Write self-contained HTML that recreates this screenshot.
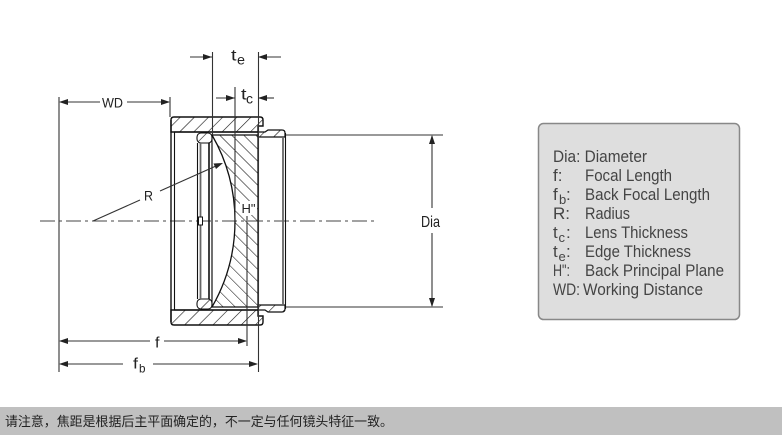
<!DOCTYPE html>
<html><head><meta charset="utf-8"><style>
html,body{margin:0;padding:0;background:#fff;}
svg{display:block;}
</style></head><body>
<svg width="782" height="435" viewBox="0 0 782 435" xmlns="http://www.w3.org/2000/svg">
<defs>
<pattern id="hh" width="10" height="10" patternUnits="userSpaceOnUse" patternTransform="rotate(45)">
<line x1="0" y1="0" x2="0" y2="10" stroke="#111" stroke-width="1.2"/>
</pattern>
<pattern id="lh" width="8.5" height="8.5" patternUnits="userSpaceOnUse" patternTransform="rotate(-45)">
<line x1="0" y1="0" x2="0" y2="8.5" stroke="#111" stroke-width="1.1"/>
</pattern>
</defs>
<rect width="782" height="435" fill="#fff"/>

<!-- center line -->
<line x1="40" y1="221" x2="376" y2="221" stroke="#444" stroke-width="1.1" stroke-dasharray="15 4 3 4"/>

<!-- housing top band -->
<path d="M171,132 L171,120 Q171,117 174,117 L260,117 Q263,117 263,120 L263,126 L258,126 L258,132 Z" fill="url(#hh)" stroke="#111" stroke-width="1.4"/>
<!-- housing bottom band -->
<path d="M171,310 L171,322 Q171,325 174,325 L260,325 Q263,325 263,322 L263,316 L258,316 L258,310 Z" fill="url(#hh)" stroke="#111" stroke-width="1.4"/>
<!-- housing left wall -->
<line x1="171" y1="120" x2="171" y2="322" stroke="#111" stroke-width="1.4"/>
<line x1="174.5" y1="132" x2="174.5" y2="310" stroke="#111" stroke-width="1.1"/>
<line x1="174" y1="132" x2="258" y2="132" stroke="#111" stroke-width="1.3"/>
<line x1="174" y1="310" x2="258" y2="310" stroke="#111" stroke-width="1.3"/>

<!-- right ring -->
<path d="M258,132 L265,132 L268,130 L282,130 Q285,130 285,133 L285,137 L258,137 Z" fill="url(#hh)" stroke="#111" stroke-width="1.2"/>
<path d="M258,310 L265,310 L268,312 L282,312 Q285,312 285,309 L285,305 L258,305 Z" fill="url(#hh)" stroke="#111" stroke-width="1.2"/>
<line x1="283" y1="137" x2="283" y2="305" stroke="#666" stroke-width="1.8"/>
<line x1="285.5" y1="133" x2="285.5" y2="309" stroke="#111" stroke-width="1.1"/>

<!-- spacer ring -->
<rect x="197" y="133" width="15" height="10" rx="4" fill="url(#hh)" stroke="#111" stroke-width="1.1"/>
<rect x="197" y="299" width="15" height="10" rx="4" fill="url(#hh)" stroke="#111" stroke-width="1.1"/>
<line x1="197.5" y1="143" x2="197.5" y2="299" stroke="#111" stroke-width="1.1"/>
<line x1="200.5" y1="143" x2="200.5" y2="299" stroke="#666" stroke-width="1.8"/>
<line x1="209" y1="143" x2="209" y2="299" stroke="#111" stroke-width="1.6"/>
<line x1="212" y1="143" x2="212" y2="299" stroke="#111" stroke-width="1.1"/>
<rect x="198.5" y="217" width="4" height="8" fill="#fff" stroke="#111" stroke-width="1"/>

<!-- lens -->
<path d="M212,135 L258,135 L258,307 L212,307 A172.3,172.3 0 0 0 212,135 Z" fill="url(#lh)" stroke="#111" stroke-width="1.3"/>
<line x1="212" y1="135" x2="212" y2="307" stroke="#111" stroke-width="1.1"/>

<!-- H'' label -->
<rect x="240" y="201" width="17" height="14" fill="#fff"/>
<text x="241.5" y="213" font-family="Liberation Sans, sans-serif" font-size="13" fill="#222" textLength="14" lengthAdjust="spacingAndGlyphs">H"</text>

<!-- extension lines -->
<g stroke="#333" stroke-width="1.1">
<line x1="59" y1="97" x2="59" y2="372"/>
<line x1="170" y1="97" x2="170" y2="117"/>
<line x1="212.5" y1="52" x2="212.5" y2="135"/>
<line x1="235" y1="87" x2="235" y2="221"/>
<line x1="258.5" y1="52" x2="258.5" y2="372"/>
<line x1="247" y1="216" x2="247" y2="346"/>
<line x1="286" y1="135" x2="443" y2="135"/>
<line x1="286" y1="307" x2="443" y2="307"/>
</g>

<!-- dimension lines -->
<g stroke="#333" stroke-width="1.1">
<line x1="60" y1="102" x2="100" y2="102"/>
<line x1="127" y1="102" x2="169" y2="102"/>
<line x1="60" y1="341" x2="150" y2="341"/>
<line x1="164" y1="341" x2="246" y2="341"/>
<line x1="60" y1="364" x2="123" y2="364"/>
<line x1="153" y1="364" x2="257" y2="364"/>
<line x1="190" y1="57" x2="212" y2="57"/>
<line x1="258" y1="57" x2="281" y2="57"/>
<line x1="216" y1="98" x2="235" y2="98"/>
<line x1="258" y1="98" x2="274" y2="98"/>
<line x1="432" y1="136" x2="432" y2="208"/>
<line x1="432" y1="233" x2="432" y2="306"/>
<line x1="93" y1="221" x2="140" y2="200"/>
<line x1="160" y1="191" x2="216" y2="166"/>
</g>
<g fill="#222">
<polygon points="59,102 68,99 68,105"/>
<polygon points="170,102 161,99 161,105"/>
<polygon points="59,341 68,338 68,344"/>
<polygon points="247,341 238,338 238,344"/>
<polygon points="59,364 68,361 68,367"/>
<polygon points="258,364 249,361 249,367"/>
<polygon points="212,57 203,54 203,60"/>
<polygon points="258,57 267,54 267,60"/>
<polygon points="235,98 226,95 226,101"/>
<polygon points="258,98 267,95 267,101"/>
<polygon points="432,135 429,144 435,144"/>
<polygon points="432,307 429,298 435,298"/>
<polygon points="223,163 213.5,163.5 216,169"/>
</g>

<!-- labels -->
<g font-family="Liberation Sans, sans-serif" fill="#222">
<text x="102" y="107.5" font-size="14" textLength="21" lengthAdjust="spacingAndGlyphs">WD</text>
<text x="144" y="200.5" font-size="14" textLength="9" lengthAdjust="spacingAndGlyphs">R</text>
<text x="421" y="227" font-size="16" textLength="19" lengthAdjust="spacingAndGlyphs">Dia</text>
<text x="155" y="347.5" font-size="15" textLength="4.5" lengthAdjust="spacingAndGlyphs">f</text>
<text x="133" y="368.5" font-size="15" textLength="5" lengthAdjust="spacingAndGlyphs">f</text>
<text x="139" y="372.5" font-size="12" textLength="6.5" lengthAdjust="spacingAndGlyphs">b</text>
<text x="231" y="60.5" font-size="16" textLength="5.5" lengthAdjust="spacingAndGlyphs">t</text>
<text x="237" y="64.5" font-size="14" textLength="8" lengthAdjust="spacingAndGlyphs">e</text>
<text x="241" y="99.5" font-size="16" textLength="5.5" lengthAdjust="spacingAndGlyphs">t</text>
<text x="246" y="103.5" font-size="14" textLength="7" lengthAdjust="spacingAndGlyphs">c</text>
</g>

<!-- legend box -->
<rect x="538.5" y="123.5" width="201" height="196" rx="5" fill="#dedede" stroke="#888" stroke-width="1.5"/>
<g font-family="Liberation Sans, sans-serif" font-size="17" fill="#444">
<text x="553" y="162" textLength="94" lengthAdjust="spacingAndGlyphs">Dia: Diameter</text>
<text x="553" y="181">f:</text>
<text x="585" y="181" textLength="87" lengthAdjust="spacingAndGlyphs">Focal Length</text>
<text x="553" y="200">f</text><text x="559" y="204" font-size="13">b</text><text x="566" y="200">:</text>
<text x="585" y="200" textLength="125" lengthAdjust="spacingAndGlyphs">Back Focal Length</text>
<text x="553" y="219">R:</text>
<text x="585" y="219" textLength="45" lengthAdjust="spacingAndGlyphs">Radius</text>
<text x="553" y="238">t</text><text x="558.5" y="242" font-size="13">c</text><text x="566" y="238">:</text>
<text x="585" y="238" textLength="103" lengthAdjust="spacingAndGlyphs">Lens Thickness</text>
<text x="553" y="257">t</text><text x="558.5" y="261" font-size="13">e</text><text x="566" y="257">:</text>
<text x="585" y="257" textLength="106" lengthAdjust="spacingAndGlyphs">Edge Thickness</text>
<text x="553" y="276" textLength="17" lengthAdjust="spacingAndGlyphs">H":</text>
<text x="585" y="276" textLength="139" lengthAdjust="spacingAndGlyphs">Back Principal Plane</text>
<text x="553" y="295" textLength="27" lengthAdjust="spacingAndGlyphs">WD:</text>
<text x="583" y="295" textLength="120" lengthAdjust="spacingAndGlyphs">Working Distance</text>
</g>

<!-- bottom note bar -->
<rect x="0" y="407" width="782" height="28" fill="#c0c0c0"/>
<text x="5" y="426" font-family="Liberation Sans, 'Noto Sans CJK SC', sans-serif" font-size="13" fill="#222" textLength="388" lengthAdjust="spacingAndGlyphs">请注意，焦距是根据后主平面确定的，不一定与任何镜头特征一致。</text>
</svg>
</body></html>
